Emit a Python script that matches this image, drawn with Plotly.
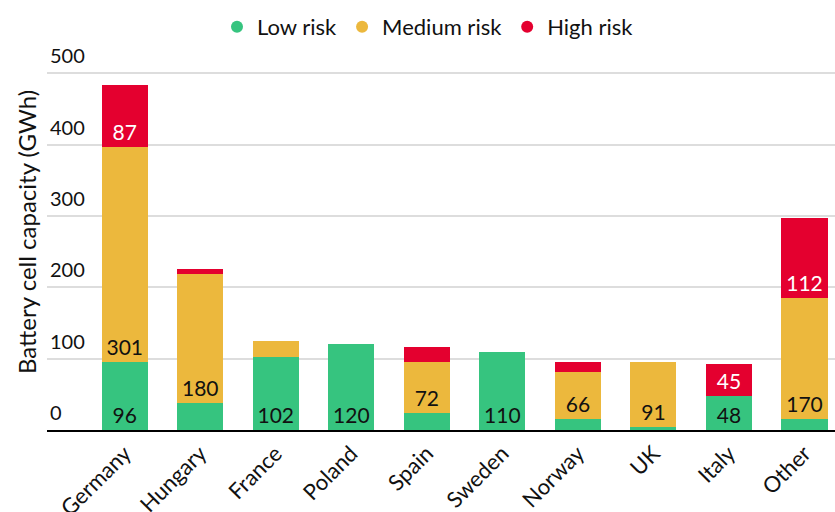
import plotly.graph_objects as go

countries = ["Germany", "Hungary", "France", "Poland", "Spain", "Sweden", "Norway", "UK", "Italy", "Other"]
low_risk = [96, 38, 102, 120, 24, 110, 15, 4, 48, 15]
medium_risk = [301, 180, 23, 0, 72, 0, 66, 91, 0, 170]
high_risk = [87, 7, 0, 0, 20, 0, 14, 0, 45, 112]
series_names = ["Low risk", "Medium risk", "High risk"]
y_ticks = [0, 100, 200, 300, 400, 500]

colors = ["#36c47f", "#ecb83d", "#e4002f"]
text_colors = ["#111111", "#111111", "#ffffff"]
FONT = "Lato, 'Source Sans Pro', sans-serif"
LABEL_MIN = 40

fig = go.Figure()
for name, vals, c, tc in zip(series_names, [low_risk, medium_risk, high_risk], colors, text_colors):
    fig.add_trace(go.Bar(
        x=countries, y=vals, name=name, marker=dict(color=c, line=dict(width=0)),
        text=[str(v) if v >= LABEL_MIN else "" for v in vals],
        textposition="inside", insidetextanchor="start", textangle=0,
        constraintext="none",
        textfont=dict(family=FONT, size=21, color=tc),
        showlegend=False, hoverinfo="x+y+name",
    ))
for name, c in zip(series_names, colors):
    fig.add_trace(go.Scatter(
        x=[None], y=[None], mode="markers", name=name,
        marker=dict(symbol="circle", size=14, color=c), showlegend=True,
    ))

fig.update_layout(
    barmode="stack", bargap=0.39,
    width=835, height=512,
    margin=dict(l=47, r=0, t=34, b=82),
    paper_bgcolor="white", plot_bgcolor="white",
    font=dict(family=FONT, size=20, color="#111111"),
    legend=dict(orientation="h", xref="paper", yref="paper",
                x=0.4835, xanchor="center", y=1.0177, yanchor="middle",
                traceorder="normal", bgcolor="rgba(0,0,0,0)",
                font=dict(family=FONT, size=22, color="#111111"),
                itemsizing="constant", itemwidth=30, tracegroupgap=0),
    xaxis=dict(range=[-1.029, 9.404], tickangle=-45, showline=True, linecolor="black",
               linewidth=2, ticks="", showgrid=False, tickfont=dict(size=22, color="#111111"),
               fixedrange=True, automargin=False),
    yaxis=dict(range=[0, 555], tickvals=y_ticks, ticktext=[str(t) for t in y_ticks],
               ticklabelposition="inside top", ticklabelshift=-3, showgrid=True, gridcolor="#dddddd",
               gridwidth=1.5, zeroline=False, showline=False, ticks="",
               tickfont=dict(size=20, color="#111111"), automargin=False,
               title=dict(text="Battery cell capacity (GWh)", standoff=6,
                          font=dict(size=24, color="#111111"))),
)

fig.write_html("out.html")
